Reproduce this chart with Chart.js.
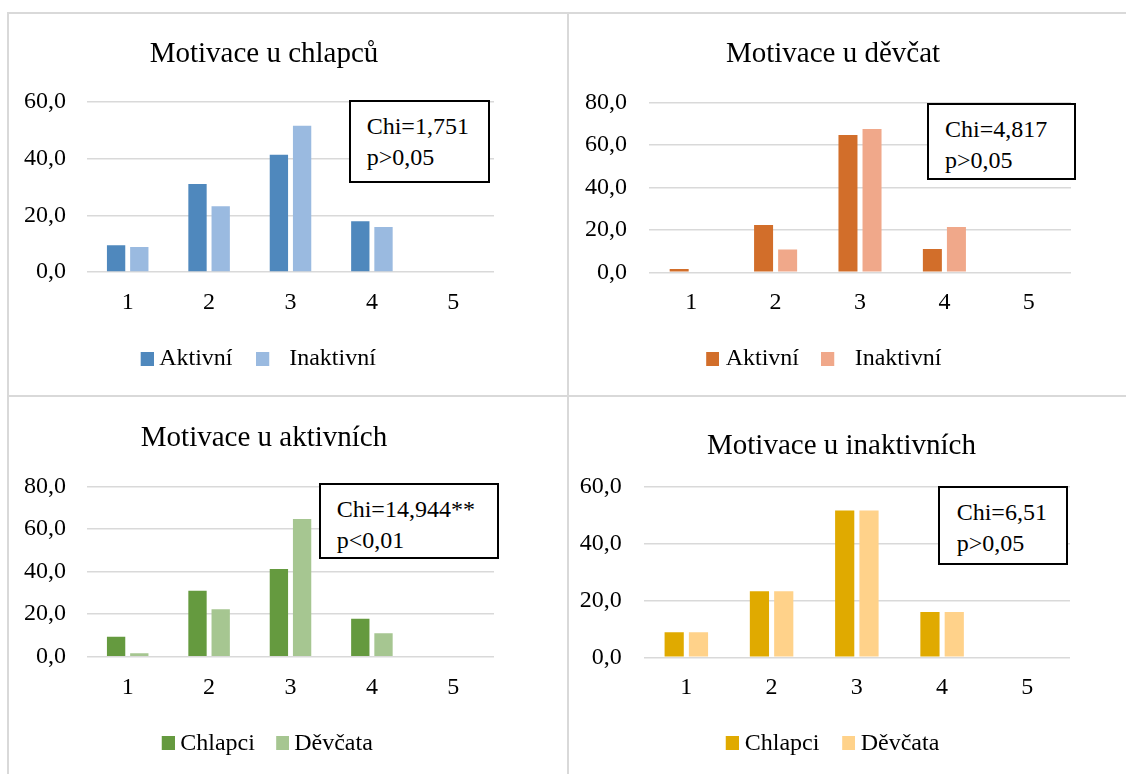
<!DOCTYPE html>
<html>
<head>
<meta charset="utf-8">
<script src="https://cdn.jsdelivr.net/npm/chart.js@4/dist/chart.umd.min.js"></script>
<style>
  html, body { margin: 0; padding: 0; background: #fff; }
  body { width: 1126px; height: 774px; position: relative; overflow: hidden;
         font-family: 'Liberation Serif', 'Times New Roman', serif; }
  canvas { position: absolute; }
  .rule { position: absolute; background: #d9d9d9; }
  .stat { position: absolute; box-sizing: border-box; border: 2px solid #000; background: #fff;
          font-size: 24px; line-height: 31px; color: #000; white-space: nowrap; }
</style>
</head>
<body>
<div class="rule" style="left:7px;top:12px;width:1119px;height:2px"></div>
<div class="rule" style="left:7px;top:12px;width:2px;height:762px"></div>
<div class="rule" style="left:567px;top:12px;width:2px;height:762px"></div>
<div class="rule" style="left:7px;top:395px;width:1119px;height:2px"></div>
<script>
// Answer categories 1–5
const categories = ['1', '2', '3', '4', '5'];

// Percentages by group
const chlapciAktivni   = [9.4, 31.0, 41.3, 17.9, 0];
const chlapciInaktivni = [8.8, 23.2, 51.6, 15.9, 0];
const devcataAktivni   = [1.6, 22.3, 64.8, 11.0, 0];
const devcataInaktivni = [0, 10.8, 67.6, 21.4, 0];
const inaktivniChlapci = [8.8, 23.2, 51.6, 15.9, 0];
const inaktivniDevcata = [8.8, 23.2, 51.6, 15.9, 0];

// Y axis ranges (max, step)
const axis60 = [60, 20];
const axis80 = [80, 20];

// Chi-square results
const statChlapci   = ['Chi=1,751', 'p>0,05'];
const statDevcata   = ['Chi=4,817', 'p>0,05'];
const statAktivni   = ['Chi=14,944**', 'p<0,01'];
const statInaktivni = ['Chi=6,51', 'p>0,05'];

const FONT = "'Liberation Serif', 'Times New Roman', serif";
const fmt = v => Number(v).toFixed(1).replace('.', ',');

// Legend swatch (13x14) drawn into a small canvas so it can sit closer to / further from its label
function makeSwatch(color, offset) {
  const hw = Math.max(Math.abs(offset - 6.5), Math.abs(offset + 6.5));
  const c = document.createElement('canvas');
  c.width = Math.ceil(hw * 2); c.height = 14;
  const ctx = c.getContext('2d');
  ctx.fillStyle = color;
  ctx.fillRect(Math.round(offset - 6.5 + hw), 0, 13, 14);
  return c;
}

function makePanel(p) {
  const canvas = document.createElement('canvas');
  canvas.width = p.w; canvas.height = p.h;
  canvas.style.left = p.x + 'px'; canvas.style.top = p.y + 'px';
  canvas.style.width = p.w + 'px'; canvas.style.height = p.h + 'px';
  document.body.appendChild(canvas);

  const swatches = p.series.map((s, i) => makeSwatch(s.color, p.swatchOffset[i]));

  new Chart(canvas, {
    type: 'bar',
    data: {
      labels: categories,
      datasets: p.series.map((s, i) => ({
        label: s.label + (i === p.series.length - 1 ? ' '.repeat(p.trail) : ''),
        data: s.data, backgroundColor: s.color,
        borderWidth: 0, categoryPercentage: 0.57, barPercentage: 0.79
      }))
    },
    options: {
      responsive: false, animation: false, devicePixelRatio: 1,
      layout: { padding: { left: 0, right: 0, top: 0, bottom: p.padBottom } },
      plugins: {
        title: {
          display: true, text: p.title, color: '#000',
          font: { family: FONT, size: 29, weight: 'normal', lineHeight: 1.2 },
          padding: { top: p.titleTop, bottom: p.titleBottom }
        },
        legend: {
          position: 'bottom',
          labels: {
            color: '#000', font: { family: FONT, size: 24 },
            usePointStyle: true, pointStyleWidth: 13, boxWidth: 13, boxHeight: 14, padding: p.legendGap,
            generateLabels(chart) {
              const items = Chart.defaults.plugins.legend.labels.generateLabels(chart);
              items.forEach((it, i) => { it.pointStyle = swatches[i]; it.lineWidth = 0; });
              return items;
            }
          }
        },
        tooltip: { enabled: false }
      },
      scales: {
        x: {
          grid: { display: false, drawTicks: false }, border: { display: false },
          ticks: { color: '#000', font: { family: FONT, size: 24 }, padding: p.xPad, maxRotation: 0 },
          afterFit(s) { s.height = p.xH; }
        },
        y: {
          min: 0, max: p.axis[0],
          grid: { color: '#d9d9d9', lineWidth: 1.5, drawTicks: false },
          border: { display: false },
          ticks: { stepSize: p.axis[1], color: '#000', font: { family: FONT, size: 24 }, padding: p.yPad, callback: fmt },
          afterFit(s) { s.width = p.yW; }
        },
        gutter: {
          type: 'linear', position: 'right', display: true,
          grid: { display: false }, border: { display: false }, ticks: { display: false },
          afterFit(s) { s.width = p.rW; }
        }
      }
    }
  });

  const box = document.createElement('div');
  box.className = 'stat';
  const b = p.stat;
  box.style.left = b.x + 'px'; box.style.top = b.y + 'px';
  box.style.width = b.w + 'px'; box.style.height = b.h + 'px';
  box.style.paddingLeft = b.pl + 'px'; box.style.paddingTop = b.pt + 'px';
  box.innerHTML = p.statText.map(t => '<div>' + t.replace('<', '&lt;').replace('>', '&gt;') + '</div>').join('');
  document.body.appendChild(box);
}

makePanel({
  x: 7, y: 12, w: 514, h: 384, yW: 80, rW: 27, yPad: 21, xPad: 16, xH: 43.3,
  titleTop: 24.5, titleBottom: 30.5, padBottom: 15, axis: axis60,
  legendGap: 31.7, swatchOffset: [6.4, -8], trail: 3,
  title: 'Motivace u chlapců',
  series: [
    { label: 'Aktivní', data: chlapciAktivni, color: '#4f88bd' },
    { label: 'Inaktivní', data: chlapciInaktivni, color: '#9abae0' }
  ],
  stat: { x: 348.7, y: 99.7, w: 141.3, h: 83.6, pl: 16, pt: 9.5 }, statText: statChlapci
});

makePanel({
  x: 568, y: 12, w: 530, h: 384, yW: 81, rW: 27, yPad: 22, xPad: 15.8, xH: 44,
  titleTop: 25.1, titleBottom: 30.8, padBottom: 15, axis: axis80,
  legendGap: 30.7, swatchOffset: [5.3, -8.3], trail: 4,
  title: 'Motivace u děvčat',
  series: [
    { label: 'Aktivní', data: devcataAktivni, color: '#d26e2a' },
    { label: 'Inaktivní', data: devcataInaktivni, color: '#f0a88a' }
  ],
  stat: { x: 926.7, y: 103, w: 149, h: 77, pl: 16.3, pt: 8.7 }, statText: statDevcata
});

makePanel({
  x: 7, y: 396, w: 514, h: 378, yW: 80, rW: 27, yPad: 21, xPad: 16.4, xH: 60.4,
  titleTop: 25.3, titleBottom: 30.6, padBottom: 8.6, axis: axis80,
  legendGap: 14.3, swatchOffset: [6.4, 7], trail: 0,
  title: 'Motivace u aktivních',
  series: [
    { label: 'Chlapci', data: chlapciAktivni, color: '#659a3f' },
    { label: 'Děvčata', data: devcataAktivni, color: '#a6c691' }
  ],
  stat: { x: 319, y: 483.3, w: 180, h: 75.7, pl: 15.7, pt: 8.5 }, statText: statAktivni
});

makePanel({
  x: 568, y: 396, w: 547, h: 378, yW: 75.7, rW: 45, yPad: 22, xPad: 15.8, xH: 57.8,
  titleTop: 32.9, titleBottom: 23, padBottom: 8.6, axis: axis60,
  legendGap: 16.3, swatchOffset: [6, 6.3], trail: 4,
  title: 'Motivace u inaktivních',
  series: [
    { label: 'Chlapci', data: inaktivniChlapci, color: '#e0aa00' },
    { label: 'Děvčata', data: inaktivniDevcata, color: '#ffd28a' }
  ],
  stat: { x: 938, y: 485.7, w: 129.7, h: 79.3, pl: 16.7, pt: 9.8 }, statText: statInaktivni
});
</script>
</body>
</html>
